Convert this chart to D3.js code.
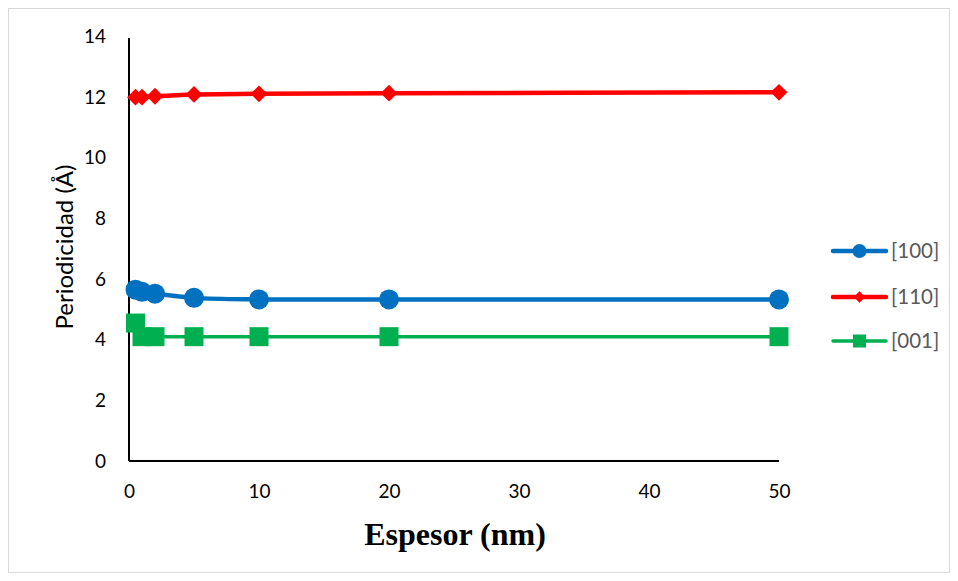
<!DOCTYPE html>
<html>
<head>
<meta charset="utf-8">
<script src="https://cdn.jsdelivr.net/npm/d3@7"></script>
<style>
  html, body { margin: 0; padding: 0; background: #fff; }
  svg { display: block; }
</style>
</head>
<body>
<svg id="chart" width="958" height="581"></svg>
<script>
// Film thickness (nm) and measured periodicity (Å) for each direction
const thickness = [0.5, 1, 2, 5, 10, 20, 50];
const period100 = [5.65, 5.58, 5.52, 5.38, 5.33, 5.33, 5.33];
const period110 = [12.0, 12.0, 12.03, 12.09, 12.11, 12.13, 12.16];
const period001 = [4.55, 4.1, 4.1, 4.1, 4.1, 4.1, 4.1];
const xTicks = [0, 10, 20, 30, 40, 50];
const yTicks = [0, 2, 4, 6, 8, 10, 12, 14];
const seriesNames = ["[100]", "[110]", "[001]"];

const series = [
  { name: seriesNames[0], values: period100, color: "#0070C0", marker: "circle", width: 4.5 },
  { name: seriesNames[1], values: period110, color: "#FF0000", marker: "diamond", width: 4.5 },
  { name: seriesNames[2], values: period001, color: "#00B050", marker: "square", width: 3.5 }
];

const svg = d3.select("#chart");
const font = "Lato, 'Open Sans', sans-serif";

// Outer frame
svg.append("rect")
  .attr("x", 8.5).attr("y", 8.5)
  .attr("width", 941).attr("height", 564)
  .attr("fill", "#fff").attr("stroke", "#d9d9d9").attr("stroke-width", 1);

const x = d3.scaleLinear().domain([0, 50]).range([129, 779]);
const y = d3.scaleLinear().domain([0, 14]).range([461, 36.5]);

// Axes
const xAxis = svg.append("g").attr("transform", `translate(0,${y(0)})`)
  .call(d3.axisBottom(x).tickValues(xTicks).tickSize(0).tickPadding(24));
const yAxis = svg.append("g").attr("transform", `translate(${x(0)},0)`)
  .call(d3.axisLeft(y).tickValues(yTicks).tickSize(0).tickPadding(23));

[xAxis, yAxis].forEach(g => {
  g.select(".domain").attr("stroke", "#000").attr("stroke-width", 2);
  g.selectAll("text").attr("font-family", font).attr("font-size", 19).attr("fill", "#000");
});
// the y axis rises a little past its top tick
yAxis.select(".domain").attr("d", `M0,${y(0)}V${y(14) + 1.5}`);
xAxis.select(".domain").attr("d", `M${x(0)},0H${x(50)}`);

// Axis titles
svg.append("text")
  .attr("x", 455).attr("y", 545)
  .attr("text-anchor", "middle")
  .attr("font-family", "'Liberation Serif', 'Times New Roman', serif")
  .attr("font-weight", "bold").attr("font-size", 32)
  .text("Espesor (nm)");

svg.append("text")
  .attr("transform", "translate(73,247) rotate(-90)")
  .attr("text-anchor", "middle")
  .attr("font-family", font).attr("font-size", 24)
  .text("Periodicidad (Å)");

const symbolFor = {
  circle: d3.symbol().type(d3.symbolCircle).size(Math.PI * 10 * 10),
  diamond: d3.symbol().type(d3.symbolDiamond2).size(2 * 9.5 * 9.5),
  square: d3.symbol().type(d3.symbolSquare).size(19 * 19)
};
const legendSymbol = {
  circle: d3.symbol().type(d3.symbolCircle).size(Math.PI * 7 * 7),
  diamond: d3.symbol().type(d3.symbolDiamond2).size(2 * 6.5 * 6.5),
  square: d3.symbol().type(d3.symbolSquare).size(13 * 13)
};

const line = d3.line()
  .x((d, i) => x(thickness[i]))
  .y(d => y(d))
  .curve(d3.curveCatmullRom.alpha(0.5));

// Draw in order so green sits beneath, red on top
[series[2], series[0], series[1]].forEach(s => {
  const g = svg.append("g");
  g.append("path")
    .attr("d", line(s.values))
    .attr("fill", "none")
    .attr("stroke", s.color)
    .attr("stroke-width", s.width)
    .attr("stroke-linecap", "round");
  g.selectAll("path.mk").data(s.values).join("path")
    .attr("class", "mk")
    .attr("transform", (d, i) => `translate(${x(thickness[i])},${y(d)})`)
    .attr("d", symbolFor[s.marker]())
    .attr("fill", s.color);
});

// Legend
const legendY = [251, 297, 341];
series.forEach((s, i) => {
  const g = svg.append("g").attr("transform", `translate(0,${legendY[i]})`);
  g.append("line")
    .attr("x1", 833).attr("x2", 886)
    .attr("stroke", s.color).attr("stroke-width", s.width)
    .attr("stroke-linecap", "round");
  g.append("path")
    .attr("transform", "translate(859.5,0)")
    .attr("d", legendSymbol[s.marker]())
    .attr("fill", s.color);
  g.append("text")
    .attr("x", 891).attr("y", 0).attr("dy", "0.35em")
    .attr("font-family", font).attr("font-size", 20.5)
    .attr("fill", "#595959")
    .text(s.name);
});
</script>
</body>
</html>
